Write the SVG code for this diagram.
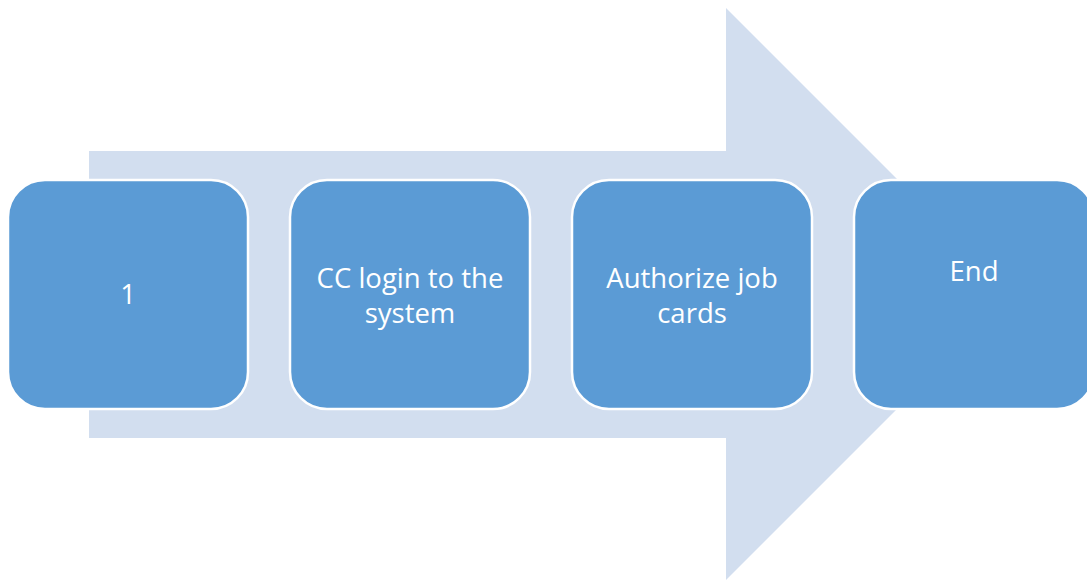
<svg xmlns="http://www.w3.org/2000/svg" width="1087" height="581" viewBox="0 0 1087 581">
<style>
.box{fill:#5B9BD5;stroke:#FFFFFF;stroke-width:2.5}
.lbl{fill:#FFFFFF;font-family:"Open Sans","Noto Sans","Liberation Sans",sans-serif;font-size:27.5px;text-anchor:middle}
</style>
<rect width="1087" height="581" fill="#FFFFFF"/>
<g id="arrow">
<polygon points="89,151 726,151 726,8 1012,294 726,580 726,438 89,438" fill="#D2DEEF"/>
</g>
<g id="connectors"></g>
<g id="n1">
<rect class="box" x="8" y="180" width="240" height="229" rx="37"/>
<text class="lbl" x="128" y="304">1</text>
</g>
<g id="n2">
<rect class="box" x="290" y="180" width="240" height="229" rx="37"/>
<text class="lbl" x="410" y="288">CC login to the</text>
<text class="lbl" x="410" y="323">system</text>
</g>
<g id="n3">
<rect class="box" x="572" y="180" width="240" height="229" rx="37"/>
<text class="lbl" x="692" y="288">Authorize job</text>
<text class="lbl" x="692" y="323">cards</text>
</g>
<g id="n4">
<rect class="box" x="854" y="180" width="240" height="229" rx="37"/>
<text class="lbl" x="974" y="281">End</text>
</g>
</svg>
